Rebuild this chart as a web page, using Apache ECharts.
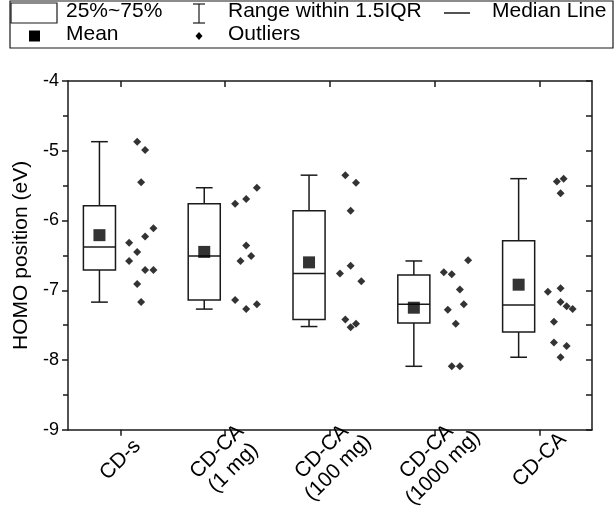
<!DOCTYPE html>
<html>
<head>
<meta charset="utf-8">
<script src="https://cdn.jsdelivr.net/npm/echarts@6/dist/echarts.min.js"></script>
<style>
html,body{margin:0;padding:0;background:#fff;}
#chart{width:616px;height:512px;}
</style>
</head>
<body>
<div id="chart"></div>
<script>
// ---- data ----
const categories = ['CD-s', 'CD-CA\n(1 mg)', 'CD-CA\n(100 mg)', 'CD-CA\n(1000 mg)', 'CD-CA'];
const whiskerLow  = [-7.17, -7.27, -7.52, -8.09, -7.96];
const q1          = [-6.71, -7.14, -7.42, -7.47, -7.60];
const median      = [-6.38, -6.51, -6.76, -7.20, -7.21];
const q3          = [-5.79, -5.76, -5.86, -6.78, -6.29];
const whiskerHigh = [-4.87, -5.53, -5.35, -6.58, -5.40];
const mean        = [-6.21, -6.45, -6.60, -7.25, -6.92];
const outlierValues = [
  [-4.87, -4.99, -5.45, -6.11, -6.23, -6.32, -6.45, -6.58, -6.71, -6.71, -6.91, -7.17],
  [-5.53, -5.69, -5.76, -6.36, -6.51, -6.58, -7.14, -7.20, -7.27],
  [-5.35, -5.46, -5.86, -6.65, -6.76, -6.87, -7.42, -7.48, -7.53],
  [-6.57, -6.74, -6.77, -6.99, -7.20, -7.28, -7.48, -8.09, -8.09],
  [-5.40, -5.44, -5.61, -6.97, -7.02, -7.17, -7.23, -7.27, -7.45, -7.75, -7.80, -7.96]
];
// horizontal jitter of each outlier, in category widths right of the category centre
const outlierJitter = [
  [0.16, 0.236, 0.198, 0.315, 0.236, 0.083, 0.16, 0.083, 0.236, 0.315, 0.16, 0.198],
  [0.302, 0.2, 0.095, 0.2, 0.248, 0.146, 0.095, 0.302, 0.2],
  [0.146, 0.248, 0.197, 0.197, 0.095, 0.299, 0.146, 0.248, 0.197],
  [0.318, 0.086, 0.162, 0.239, 0.277, 0.124, 0.2, 0.162, 0.239],
  [0.229, 0.165, 0.2, 0.2, 0.079, 0.2, 0.258, 0.315, 0.137, 0.137, 0.258, 0.2]
];
const yTicks = [-9, -8, -7, -6, -5, -4];

// ---- build series data ----
const BOX_SHIFT = -0.2;      // box drawn left of category centre
const BOX_HALF = 0.153;
const CAP_HALF = 0.08;
const boxData = categories.map((c, i) => [i + 0.5 + BOX_SHIFT, whiskerLow[i], q1[i], median[i], q3[i], whiskerHigh[i]]);
const meanData = mean.map((m, i) => [i + 0.5 + BOX_SHIFT, m]);
const outlierData = [];
outlierValues.forEach((arr, i) => arr.forEach((v, k) => outlierData.push([i + 0.5 + outlierJitter[i][k], v])));

const FONT = '"Liberation Sans", Arial, sans-serif';
const INK = '#1a1a1a';

const chart = echarts.init(document.getElementById('chart'), null, {renderer: 'canvas'});

function renderBox(params, api) {
  const x = api.value(0);
  const lo = api.coord([x, api.value(1)]);
  const b1 = api.coord([x, api.value(2)]);
  const md = api.coord([x, api.value(3)]);
  const b3 = api.coord([x, api.value(4)]);
  const hi = api.coord([x, api.value(5)]);
  const hw = api.size([BOX_HALF, 0])[0];
  const cw = api.size([CAP_HALF, 0])[0];
  const cx = lo[0];
  const st = {stroke: INK, lineWidth: 1.5, fill: null};
  return {
    type: 'group',
    children: [
      {type: 'line', shape: {x1: cx, y1: hi[1], x2: cx, y2: b3[1]}, style: st},
      {type: 'line', shape: {x1: cx, y1: b1[1], x2: cx, y2: lo[1]}, style: st},
      {type: 'line', shape: {x1: cx - cw, y1: hi[1], x2: cx + cw, y2: hi[1]}, style: st},
      {type: 'line', shape: {x1: cx - cw, y1: lo[1], x2: cx + cw, y2: lo[1]}, style: st},
      {type: 'rect', shape: {x: cx - hw, y: b3[1], width: 2 * hw, height: b1[1] - b3[1]}, style: {stroke: INK, lineWidth: 1.5, fill: '#fff'}},
      {type: 'line', shape: {x1: cx - hw, y1: md[1], x2: cx + hw, y2: md[1]}, style: st}
    ]
  };
}

// legend drawn as graphic elements (real text)
const L1 = 13, L2 = 36;
const legendText = (x, y, t) => ({type: 'text', left: x, top: y - 12, style: {text: t, font: '21px ' + FONT, fill: '#000'}});
const graphic = [
  {type: 'rect', shape: {x: 10, y: 1, width: 603, height: 47}, style: {stroke: INK, lineWidth: 1.2, fill: null}},
  {type: 'rect', shape: {x: 11, y: 3, width: 46, height: 20}, style: {stroke: INK, lineWidth: 1.2, fill: '#fff'}},
  legendText(66, L1, '25%~75%'),
  {type: 'line', shape: {x1: 199, y1: 4, x2: 199, y2: 23}, style: {stroke: INK, lineWidth: 1.2}},
  {type: 'line', shape: {x1: 193, y1: 4, x2: 205, y2: 4}, style: {stroke: INK, lineWidth: 1.2}},
  {type: 'line', shape: {x1: 193, y1: 23, x2: 205, y2: 23}, style: {stroke: INK, lineWidth: 1.2}},
  legendText(228, L1, 'Range within 1.5IQR'),
  {type: 'line', shape: {x1: 444, y1: L1, x2: 470, y2: L1}, style: {stroke: INK, lineWidth: 1.5}},
  legendText(492, L1, 'Median Line'),
  {type: 'rect', shape: {x: 29, y: L2 - 5.5, width: 11, height: 11}, style: {fill: '#000'}},
  legendText(66, L2, 'Mean'),
  {type: 'polygon', shape: {points: [[199, L2 - 4], [202.5, L2], [199, L2 + 4], [195.5, L2]]}, style: {fill: '#000'}},
  legendText(228, L2, 'Outliers')
];

const option = {
  backgroundColor: '#fff',
  animation: false,
  graphic: graphic,
  grid: {left: 68, right: 24, top: 81, bottom: 78, containLabel: false},
  xAxis: [
    {
      type: 'category', data: categories, position: 'bottom', boundaryGap: true,
      axisLine: {show: true, onZero: false, lineStyle: {color: INK, width: 1.5}},
      axisTick: {show: true, alignWithLabel: true, length: 6, lineStyle: {color: INK, width: 1.5}},
      axisLabel: {rotate: 45, align: 'center', verticalAlign: 'middle', margin: 30,
        fontSize: 21, fontFamily: FONT, color: '#000', lineHeight: 23, interval: 0},
      splitLine: {show: false}
    },
    {
      type: 'category', data: categories, position: 'top', boundaryGap: true,
      axisLine: {show: true, onZero: false, lineStyle: {color: INK, width: 1.5}},
      axisTick: {show: true, inside: true, alignWithLabel: true, length: 6, lineStyle: {color: INK, width: 1.5}},
      axisLabel: {show: false}, splitLine: {show: false}
    },
    {type: 'value', min: 0, max: 5, show: false}
  ],
  yAxis: [
    {
      type: 'value', min: yTicks[0], max: yTicks[yTicks.length - 1], interval: 1, position: 'left',
      name: 'HOMO position (eV)', nameLocation: 'middle', nameGap: 31,
      nameTextStyle: {fontSize: 21, fontFamily: FONT, color: '#000'},
      axisLine: {show: true, onZero: false, lineStyle: {color: INK, width: 1.5}},
      axisTick: {show: true, length: 6, lineStyle: {color: INK, width: 1.5}},
      minorTick: {show: true, splitNumber: 2, length: 5, lineStyle: {color: INK, width: 1.5}},
      axisLabel: {fontSize: 18, fontFamily: FONT, color: '#000', margin: 9},
      splitLine: {show: false}, minorSplitLine: {show: false}
    },
    {
      type: 'value', min: yTicks[0], max: yTicks[yTicks.length - 1], interval: 1, position: 'right',
      axisLine: {show: true, onZero: false, lineStyle: {color: INK, width: 1.5}},
      axisTick: {show: true, inside: true, length: 6, lineStyle: {color: INK, width: 1.5}},
      minorTick: {show: true, splitNumber: 2, length: 6, lineStyle: {color: INK, width: 1.5}},
      axisLabel: {show: false}, splitLine: {show: false}
    }
  ],
  series: [
    {
      type: 'custom', xAxisIndex: 2, yAxisIndex: 0, renderItem: renderBox,
      data: boxData, encode: {x: 0, y: [1, 2, 3, 4, 5]}, z: 2
    },
    {
      type: 'scatter', xAxisIndex: 2, yAxisIndex: 0, data: meanData,
      symbol: 'rect', symbolSize: 12, itemStyle: {color: '#000'}, z: 3
    },
    {
      type: 'scatter', xAxisIndex: 2, yAxisIndex: 0, data: outlierData,
      symbol: 'diamond', symbolSize: [8, 8], itemStyle: {color: '#000'}, z: 3
    }
  ]
};
chart.setOption(option);
</script>
</body>
</html>
